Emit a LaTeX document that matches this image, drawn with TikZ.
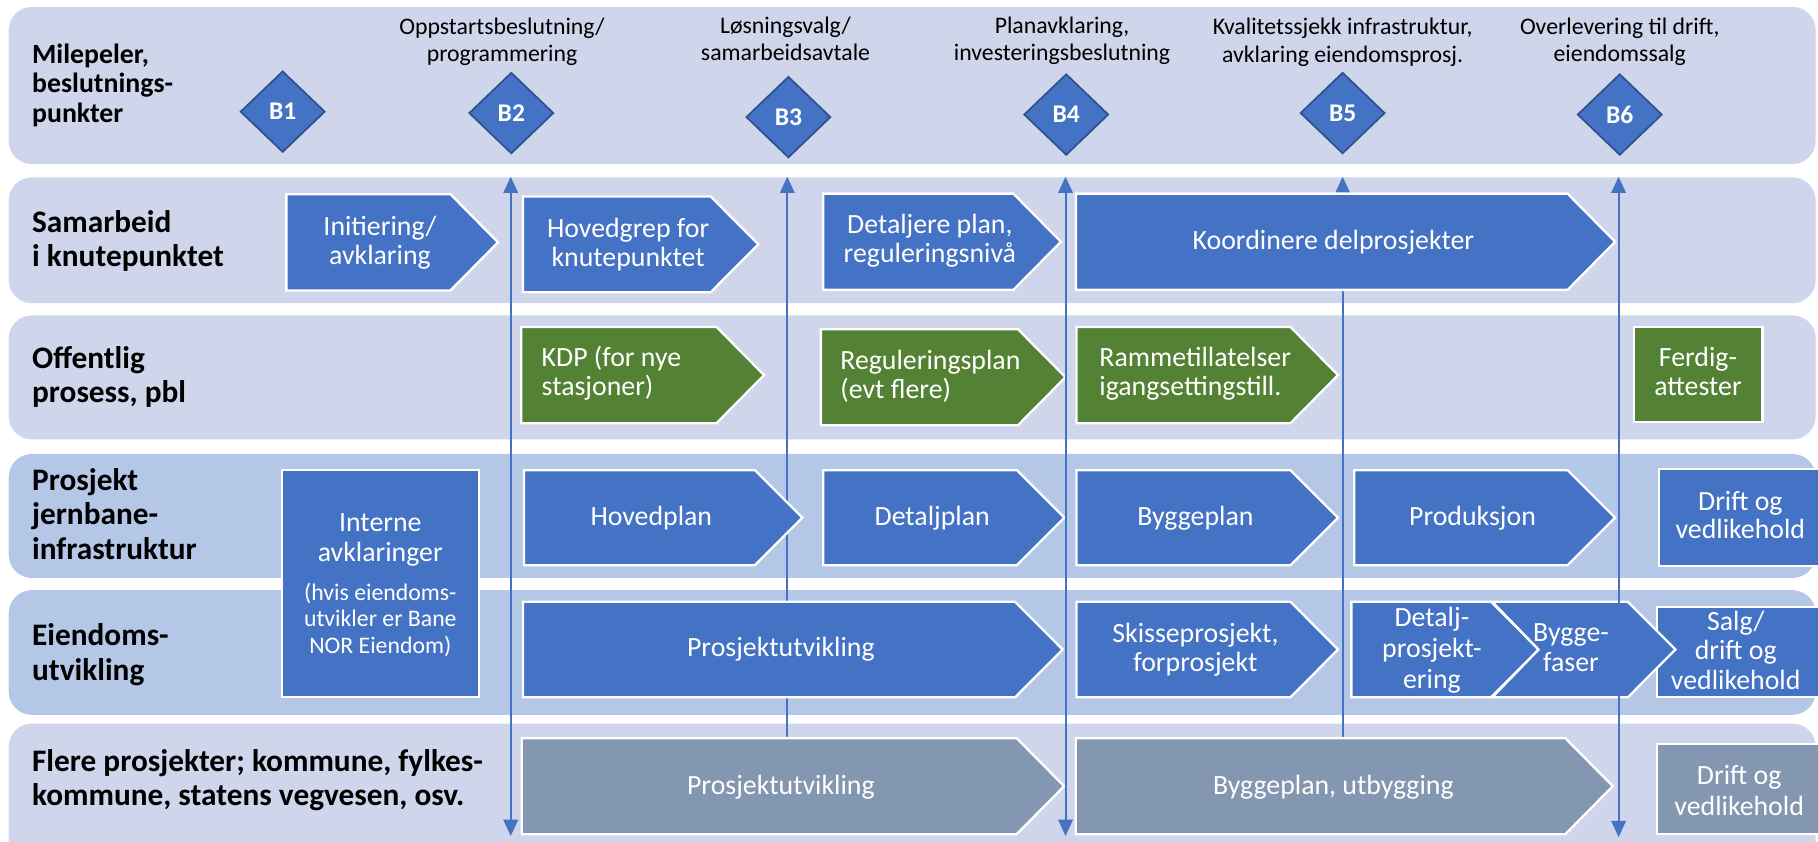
\documentclass[tikz,border=0pt]{standalone}
\usepackage{fontspec}
\setmainfont{Carlito}
\usetikzlibrary{arrows.meta,shapes.geometric}

\definecolor{bandA}{HTML}{CFD5EA}
\definecolor{bandB}{HTML}{B4C7E7}
\definecolor{boxblue}{HTML}{4472C4}
\definecolor{boxgreen}{HTML}{548235}
\definecolor{boxgrey}{HTML}{8497B0}
\definecolor{msedge}{HTML}{2F528F}

% pentagon arrow: fill, left, top, tip x, bottom
\newcommand\pentpath[5]{%
  \draw[shp, fill=#1] (#2,#3) -- ({#4-41},#3) -- (#4,{(#3+#5)/2})
    -- ({#4-41},#5) -- (#2,#5) -- cycle;}

\begin{document}
\begin{tikzpicture}[x=1pt, y=-1pt,
  band/.style={rounded corners=20pt},
  shp/.style={draw=white, line width=2pt, line join=miter},
  boxtxt/.style={text=white, font=\fontsize{24}{25}\selectfont, align=center, anchor=base, inner sep=0pt},
  greentxt/.style={boxtxt, align=left, anchor=base west},
  lbl/.style={font=\bfseries\fontsize{27}{29.6}\selectfont, align=left, anchor=base west, inner sep=0pt},
  mstxt/.style={font=\fontsize{20.5}{23.5}\selectfont, align=center, anchor=base, inner sep=0pt},
  ms/.style={diamond, fill=boxblue, draw=msedge, line width=1.5pt, text=white,
    font=\bfseries\fontsize{22}{24}\selectfont, minimum width=73pt, minimum height=70pt, inner sep=0pt},
  ln/.style={draw=boxblue, line width=1.7pt},
  tipup/.style={-{Triangle[length=14pt,width=12.5pt]}},
  tipboth/.style={{Triangle[length=14pt,width=12.5pt]}-{Triangle[length=14pt,width=12.5pt]}}
]
\useasboundingbox (0,0) rectangle (1568,726);
\clip (0,0) rectangle (1568,726);

% swim lanes
\fill[bandA, band] (7.5,6)   rectangle (1566,141.5);
\fill[bandA, band] (7.5,153) rectangle (1566,261.5);
\fill[bandA, band] (7.5,272) rectangle (1566,379);
\fill[bandB, band] (7.5,391.5) rectangle (1566,498.5);
\fill[bandB, band] (7.5,509) rectangle (1566,616.5);
\fill[bandA, band] (7.5,624) rectangle (1566,750);

% lane titles (anchored at the baseline of their last line)
\node[lbl, font=\bfseries\fontsize{24}{25.6}\selectfont] (lMile) at (27.5,105.8) {Milepeler,\\beslutnings-\\punkter};
\node[lbl] (lSam) at (27.5,230) {Samarbeid\\i knutepunktet};
\node[lbl] (lOff) at (27.5,347.2) {Offentlig\\prosess, pbl};
\node[lbl] (lPro) at (27.5,482.2) {Prosjekt\\jernbane-\\infrastruktur};
\node[lbl] (lEie) at (27.5,586.6) {Eiendoms-\\utvikling};
\node[lbl] (lFle) at (27.5,694.6) {Flere prosjekter; kommune, fylkes-\\kommune, statens vegvesen, osv.};

% end points of the milestone arrows
\coordinate (a2t) at (440.5,152.4); \coordinate (a2b) at (440.5,721);
\coordinate (a3t) at (679,152.4);   \coordinate (a3b) at (679,636.6);
\coordinate (a4t) at (919,152.4);   \coordinate (a4b) at (919,721);
\coordinate (a5t) at (1158,152.4);  \coordinate (a5b) at (1158,636.6);
\coordinate (a6t) at (1396,152.4);  \coordinate (a6b) at (1396,722);

% arrows that run behind the boxes
\draw[ln, tipup] (a3b) -- (a3t);
\draw[ln, tipup] (a5b) -- (a5t);

% Samarbeid i knutepunktet
\pentpath{boxblue}{247}{167.5}{429.5}{250.5}
\node[boxtxt] (initi) at (327.7,227.7) {Initiering/\\avklaring};
\pentpath{boxblue}{451}{169.5}{654}{252}
\node[boxtxt] (hovgrep) at (541.75,229.5) {Hovedgrep for\\knutepunktet};
\pentpath{boxblue}{710}{167}{915}{250}
\node[boxtxt] (detplan) at (802,226.3) {Detaljere plan,\\reguleringsnivå};
\pentpath{boxblue}{928}{167}{1393}{250}
\node[boxtxt] (koord) at (1150,215) {Koordinere delprosjekter};

% Offentlig prosess
\pentpath{boxgreen}{449.5}{282}{659}{365}
\node[greentxt] (kdp) at (467,341) {KDP (for nye\\stasjoner)};
\pentpath{boxgreen}{708}{284}{919}{366.7}
\node[greentxt] (regpl) at (724.6,344) {Reguleringsplan\\(evt flere)};
\pentpath{boxgreen}{928.5}{282}{1154}{365}
\node[greentxt] (ramme) at (948,341) {Rammetillatelser\\igangsettingstill.};
\draw[shp, fill=boxgreen] (1409,282) rectangle (1520,363.7);
\node[boxtxt] (ferdig) at (1464.5,341) {Ferdig-\\attester};

% Prosjekt jernbaneinfrastruktur
\draw[shp, fill=boxblue] (243,405.5) rectangle (413,601.4);
\node[boxtxt, font=\fontsize{24}{26}\selectfont] (intern) at (328,484.6) {Interne\\avklaringer};
\node[boxtxt, font=\fontsize{20.5}{23}\selectfont] (internsub) at (328,563.5) {(hvis eiendoms-\\utvikler er Bane\\NOR Eiendom)};
\pentpath{boxblue}{452}{405.5}{692}{487.5}
\node[boxtxt] (hovpl) at (561.75,453) {Hovedplan};
\pentpath{boxblue}{710}{405.5}{918}{487.5}
\node[boxtxt] (detaljpl) at (804,453) {Detaljplan};
\pentpath{boxblue}{928.5}{405.5}{1154}{487.5}
\node[boxtxt] (byggpl) at (1031,453) {Byggeplan};
\pentpath{boxblue}{1168}{405.5}{1393}{487.5}
\node[boxtxt] (prod) at (1270,453) {Produksjon};
\draw[shp, fill=boxblue] (1431,404.6) rectangle (1580,488);
\node[boxtxt, font=\fontsize{24}{24.5}\selectfont] (drift1) at (1501,464.5) {Drift og\\vedlikehold};

% Eiendomsutvikling
\pentpath{boxblue}{451}{519}{916.5}{601.4}
\node[boxtxt] (prutv) at (673.5,566.4) {Prosjektutvikling};
\pentpath{boxblue}{928.5}{519}{1154}{601.4}
\node[boxtxt] (skisse) at (1031,579) {Skisseprosjekt,\\forprosjekt};
\draw[shp, fill=boxblue] (1429,523.8) rectangle (1580,601);
\node[boxtxt, font=\fontsize{24}{25.6}\selectfont] (salg) at (1497,594.6) {Salg/\\drift og\\vedlikehold};
\pentpath{boxblue}{1165.5}{519}{1327}{601.4}
\node[boxtxt, font=\fontsize{24}{26.5}\selectfont] (detalj) at (1235,593.5) {Detalj-\\prosjekt-\\ering};
\draw[shp, fill=boxblue] (1287,519) -- (1404,519) -- (1445,560.2) -- (1404,601.4)
  -- (1287,601.4) -- (1327,560.2) -- cycle;
\node[boxtxt, font=\fontsize{24}{26}\selectfont] (byggfas) at (1355,579.4) {Bygge-\\faser};

% Flere prosjekter
\pentpath{boxgrey}{450}{636.6}{917.8}{719.5}
\node[boxtxt] (prutv2) at (673.5,685) {Prosjektutvikling};
\pentpath{boxgrey}{927.8}{636.6}{1391}{719.5}
\node[boxtxt] (byggutb) at (1150,685) {Byggeplan, utbygging};
\draw[shp, fill=boxgrey] (1429,641.7) rectangle (1580,719.5);
\node[boxtxt, font=\fontsize{24}{26}\selectfont] (drift2) at (1500,703) {Drift og\\vedlikehold};

% milestones
\node[ms] (B1) at (243.8,96.3) {B1};
\node[ms] (B2) at (441,97.5) {B2};
\node[ms] (B3) at (680,101) {B3};
\node[ms] (B4) at (919.6,98.8) {B4};
\node[ms] (B5) at (1158,97.5) {B5};
\node[ms] (B6) at (1397,98.8) {B6};
\node[mstxt] (t2) at (433,53.1) {Oppstartsbeslutning/\\programmering};
\node[mstxt] (t3) at (677.5,52.5) {Løsningsvalg/\\samarbeidsavtale};
\node[mstxt] (t4) at (916,52.5) {Planavklaring,\\investeringsbeslutning};
\node[mstxt] (t5) at (1158,53.5) {Kvalitetssjekk infrastruktur,\\avklaring eiendomsprosj.};
\node[mstxt] (t6) at (1397,53.1) {Overlevering til drift,\\eiendomssalg};

% arrows drawn over the boxes
\draw[ln, tipboth] (a2t) -- (a2b);
\draw[ln, tipboth] (a4t) -- (a4b);
\draw[ln, tipboth] (a6t) -- (a6b);
\end{tikzpicture}
\end{document}
